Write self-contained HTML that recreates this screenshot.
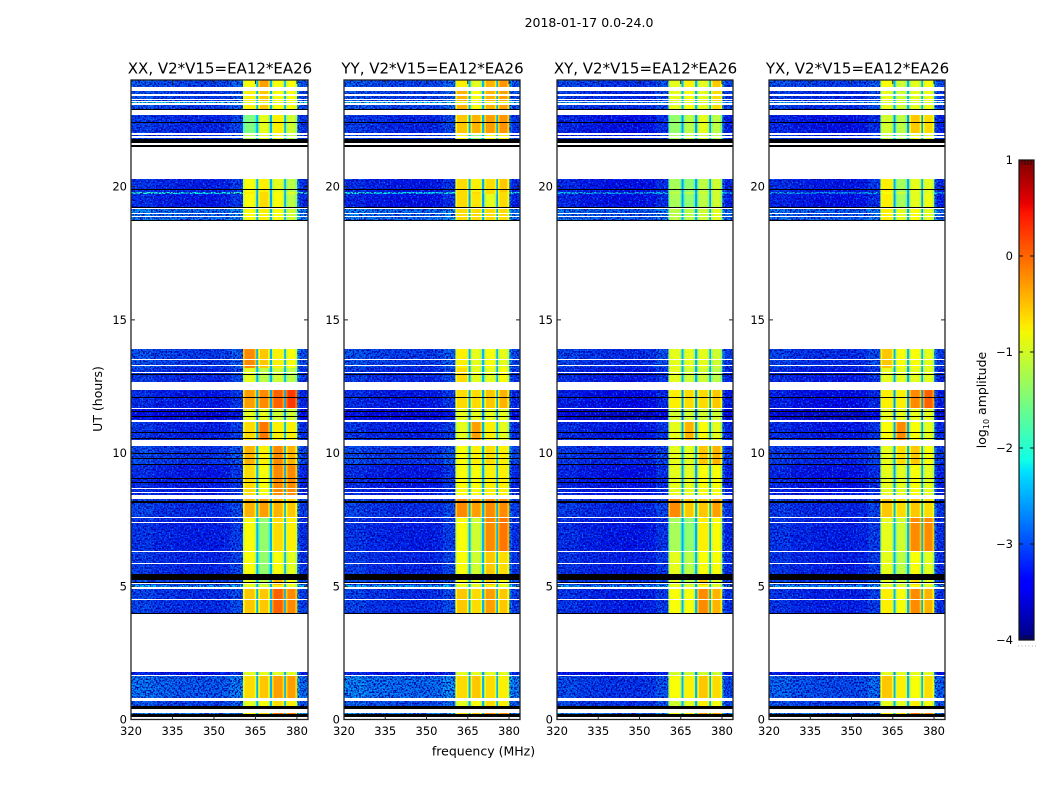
<!DOCTYPE html>
<html>
<head>
<meta charset="utf-8">
<title>2018-01-17 0.0-24.0</title>
<style>
html,body{margin:0;padding:0;background:#fff;}
svg{display:block;font-family:"DejaVu Sans","Liberation Sans",sans-serif;}
</style>
</head>
<body>
<svg id="chart" xmlns="http://www.w3.org/2000/svg" width="1050" height="800" viewBox="0 0 1050 800">
  <defs>
    <filter id="speckle" filterUnits="userSpaceOnUse" x="0" y="0" width="1050" height="800" color-interpolation-filters="sRGB">
      <feTurbulence type="fractalNoise" baseFrequency="0.62" numOctaves="1" seed="7" result="n"/>
      <feColorMatrix in="n" type="matrix" values="0 0 0 0 0  0 0 0 0 0  0 0 0 0 0.62  4.5 0 0 0 -1.9" result="d"/>
      <feColorMatrix in="n" type="matrix" values="0 0 0 0 0.03  0 0 0 0 0.5  0 0 0 0 1  0 4.5 0 0 -2.5" result="l"/>
      <feComposite in="d" in2="SourceAlpha" operator="in" result="dd"/>
      <feComposite in="l" in2="SourceAlpha" operator="in" result="ll"/>
      <feMerge><feMergeNode in="SourceGraphic"/><feMergeNode in="dd"/><feMergeNode in="ll"/></feMerge>
    </filter>
    <linearGradient id="jet-gradient" x1="0" y1="1" x2="0" y2="0">
      <stop offset="0" stop-color="#00007f"/>
      <stop offset="0.11" stop-color="#0000ff"/>
      <stop offset="0.125" stop-color="#0000ff"/>
      <stop offset="0.35" stop-color="#00e0ff"/>
      <stop offset="0.375" stop-color="#10ffe6"/>
      <stop offset="0.64" stop-color="#f4f802"/>
      <stop offset="0.66" stop-color="#ffe600"/>
      <stop offset="0.89" stop-color="#ff1300"/>
      <stop offset="0.91" stop-color="#e80000"/>
      <stop offset="1" stop-color="#7f0000"/>
    </linearGradient>
  </defs>
  <text x="589" y="27" font-size="12.5" text-anchor="middle">2018-01-17 0.0-24.0</text>
  <text x="483.5" y="755.5" font-size="12.5" text-anchor="middle">frequency (MHz)</text>
  <text x="0" y="0" font-size="12.5" text-anchor="middle" transform="translate(102,399) rotate(-90)">UT (hours)</text>
  <g id="panels"></g>
  <g id="colorbar">
    <rect x="1019" y="160" width="15" height="480" fill="url(#jet-gradient)" stroke="#111" stroke-width="1.2"/>
    <text font-size="12.5" text-anchor="middle" transform="translate(986,400) rotate(-90)">log<tspan font-size="8" dy="3">10</tspan><tspan dy="-3"> amplitude</tspan></text>
  </g>
</svg>
<script>
// Panel titles and axes
const panelTitles = ['XX, V2*V15=EA12*EA26', 'YY, V2*V15=EA12*EA26', 'XY, V2*V15=EA12*EA26', 'YX, V2*V15=EA12*EA26'];
const freqTicks = [320, 335, 350, 365, 380];
const timeTicks = [0, 5, 10, 15, 20];
const colorTicks = [1, 0, -1, -2, -3, -4];

// Frequency channels (MHz) and what each channel reads: L# low-band offset, B# sub-band, E# sub-band edge, G gap
const freqEdges = [320,328,336,344,352,356,360.5,361.1,364.7,365.3,366,366.6,369.6,370.2,371,371.6,374.8,375.4,376,376.6,379.4,380,381,384];
const channelKind = ['L0','L1','L2','L3','L4','L5','E0','B0','E0','G','E1','B1','E1','G','E2','B2','E2','G','E3','B3','E3','L7','L6'];
const lowOffsets = [0.05, -0.05, -0.1, -0.12, -0.08, 0.1, 0.0, 0.35];

// Observed spans (UT hours)
const spanStart = [24,23.6,23.17,22.68,22,20.28,19.78,19.72,19.2,13.9,13.2,12.38,11.68,11.15,10.25,9.55,8.26,7.6,6.27,5.25,5.05,4.9,1.77,1.62,0.68,0.24];
const spanEnd = [23.6,22.9,23.12,22,21.47,19.78,19.72,19.2,18.69,13.2,12.66,11.68,11.2,10.48,9.55,8.41,7.6,6.29,5.45,5,4.98,3.96,1.67,0.79,0.38,0.08];

// Log amplitude, one entry per span
const xxLow = [-2.85,-2.9,-2,-3.05,-3,-3.1,-2,-3.15,-2.6,-2.9,-3.05,-3.15,-3.35,-3.1,-2.95,-3.15,-3,-3.1,-3.05,-2.95,-2.3,-3,-3.2,-2.7,-2.85,-2.5];
const yyLow = [-2.85,-2.85,-2,-3.05,-3,-3.15,-2.1,-3.2,-2.6,-2.9,-3.05,-3.15,-3.35,-3.1,-2.95,-3.15,-3,-3.1,-3.05,-2.95,-2.3,-3,-3.2,-2.6,-2.8,-2.5];
const xyLow = [-2.95,-3,-2.4,-3.2,-3.1,-3.2,-2.4,-3.2,-2.7,-3,-3.15,-3.25,-3.5,-3.15,-3.05,-3.2,-3.05,-3.15,-3.1,-3,-2.4,-3.1,-3.3,-2.95,-2.95,-2.6];
const yxLow = [-2.9,-3,-2.4,-3.2,-3.1,-3.15,-2.5,-3.2,-2.7,-3,-3.15,-3.25,-3.5,-3.15,-3.05,-3.2,-3.05,-3.1,-3.1,-3,-2.4,-3.1,-3.3,-2.8,-2.9,-2.6];

const xxHigh = [[-.9,-.4,-.9,-.9],[-.8,-.6,-.9,-.9],[-1,-1,-1,-1],[-1.5,-1,-.8,-1.1],[-1.2,-1,-1,-1.2],[-.9,-.8,-1,-1.2],[-.8,-.7,-.9,-1],[-.9,-.7,-.9,-1.2],[-.9,-.8,-.9,-1.1],[-.3,-.6,-.8,-.9],[-1,-1.2,-1.1,-1.2],[-.4,-.3,-.1,.1],[-1,-1,-1.1,-1.1],[-.7,-.2,-.8,-.8],[-.5,-.8,-.3,-.5],[-.7,-.9,-.3,-.3],[-.5,-.4,-.5,-.6],[-.9,-1.4,-.7,-.8],[-.9,-1.4,-.9,-1],[-1,-1.2,-.5,-.9],[-1,-1,-.8,-1],[-.6,-.6,-.1,-.3],[-1,-1,-1,-1],[-.7,-.6,-.4,-.4],[-1,-.9,-.7,-.8],[-.8,-.7,-.2,-.2]];
const yyHigh = [[-.8,-1,-.5,-.35],[-.5,-.9,-.5,-.4],[-1,-1,-1,-1],[-.6,-.5,-.4,-.35],[-.9,-1.4,-.9,-.8],[-.7,-.8,-.7,-.6],[-.7,-.7,-.7,-.7],[-.7,-.75,-1,-.7],[-.7,-.7,-.7,-.7],[-.8,-1,-.9,-1],[-.7,-1,-1,-.9],[-.7,-.7,-.6,-.5],[-1,-1,-1,-1],[-1,-.4,-.8,-1],[-.9,-.8,-.7,-.8],[-.9,-.9,-.8,-.8],[-.3,-.4,-.3,-.3],[-.9,-1.1,-.3,-.2],[-.9,-1.1,-.6,-.7],[-.9,-1,-.6,-.9],[-1,-1,-.8,-1],[-.6,-.7,-.4,-.6],[-1,-1,-1,-1],[-.7,-.6,-.7,-.8],[-1,-.9,-.7,-.8],[-.7,-.6,-.3,-.3]];
const xyHigh = [[-1,-.8,-1,-.6],[-1,-.9,-1,-.7],[-1.1,-1.1,-1.1,-1.1],[-1.4,-1.2,-1,-1.2],[-1.3,-1.2,-1.1,-1.2],[-1.3,-1.4,-1.2,-1.1],[-1.2,-1.2,-1.1,-1.1],[-1.3,-1.4,-1.2,-1.1],[-1.2,-1.2,-1.1,-1],[-1,-1,-1,-1.1],[-1,-1.1,-1.1,-1.2],[-.8,-.7,-.7,-.6],[-1.1,-1.1,-1.1,-1.1],[-1,-.5,-.9,-1],[-1,-1,-.6,-.5],[-1,-1,-.9,-.9],[-.3,-.6,-.6,-.4],[-1.3,-1.4,-.8,-.9],[-1,-1.2,-.9,-.9],[-1,-1.2,-.6,-1],[-1,-1,-.9,-1],[-.9,-.9,-.3,-.5],[-1.1,-1.1,-1.1,-1.1],[-.9,-.8,-.6,-.7],[-1.1,-1,-.8,-.9],[-.9,-.8,-.4,-.4]];
const yxHigh = [[-.9,-1.1,-1,-.9],[-1,-1.1,-1,-.95],[-1.1,-1.1,-1.1,-1.1],[-1.1,-1.2,-.6,-.7],[-1.2,-1.3,-1,-1],[-.8,-1.3,-1,-1],[-.9,-1.1,-1,-1],[-.8,-1.3,-1,-.95],[-.8,-1,-.9,-1],[-.6,-.9,-.9,-1],[-1,-1,-1,-1],[-.8,-.8,-.3,-.1],[-1,-1,-1,-1],[-.9,-.3,-.9,-1],[-1,-.7,-.6,-.9],[-1,-1,-.9,-1],[-.6,-.7,-.6,-.7],[-1,-1.1,-.3,-.3],[-1,-1.2,-.9,-1],[-1,-1.1,-.7,-1],[-1,-1,-.9,-1],[-.8,-.9,-.3,-.5],[-1,-1,-1,-1],[-.6,-.8,-.9,-.7],[-1,-1,-.8,-.9],[-.8,-.7,-.2,-.3]];
const lowSeries = [xxLow, yyLow, xyLow, yxLow];
const highSeries = [xxHigh, yyHigh, xyHigh, yxHigh];

// Gaps in the record (UT hours): no data, white
const gapStart = [23.74,23.46,23.27,23.21,23.12,22.87,22.01,21.89,21.63,21.47,19.2,19.02,18.89,18.69,13.52,13.3,13.03,12.66,11.68,11.23,10.48,10.37,8.68,8.54,8.41,7.61,7.4,6.31,5.86,5.11,4.98,4.54,3.96,1.67,0.79,0.38,0.08];
const gapEnd = [23.59,23.41,23.25,23.17,23.06,22.68,21.95,21.82,21.56,20.28,19.16,18.97,18.84,13.9,13.48,13.26,12.99,12.38,11.64,11.15,10.4,10.25,8.64,8.51,8.26,7.57,7.36,6.27,5.82,5.07,4.9,4.51,1.77,1.62,0.68,0.24,0];

// Flagged intervals (UT hours): black
const flagStart = [22.93,22.42,21.8,21.56,19.91,19.23,18.73,12.96,12.11,11.59,11.38,10.78,10.55,9.99,9.8,9.6,9.07,8.92,8.19,5.45,5.15,3.98,0.49,0.19];
const flagEnd = [22.87,22.39,21.63,21.47,19.87,19.2,18.69,12.92,12.07,11.55,11.34,10.74,10.52,9.95,9.76,9.54,9.03,8.86,8.13,5.25,5.11,3.96,0.38,0.08];

// Layout
const NS = 'http://www.w3.org/2000/svg';
const panelLeft = [131, 344, 557, 769];
const panelRight = [308, 520, 733, 945];
const plotTop = 80, plotBottom = 719.5;
const colorTop = 160, colorBottom = 640, colorLeft = 1019, colorRight = 1034;
const fMin = 320, fMax = 384, tMin = 0, tMax = 24, cMin = -4, cMax = 1;

function xScale(p, f) { return panelLeft[p] + (f - fMin) / (fMax - fMin) * (panelRight[p] - panelLeft[p]); }
function yScale(t) { return plotBottom - (t - tMin) / (tMax - tMin) * (plotBottom - plotTop); }
function cScale(v) { return colorBottom - (v - cMin) / (cMax - cMin) * (colorBottom - colorTop); }

function jet(v) {
  const t = Math.max(0, Math.min(1, (v - cMin) / (cMax - cMin)));
  const ramp = (c) => Math.round(255 * Math.max(0, Math.min(1, 1.5 - Math.abs(4 * t - c))));
  return 'rgb(' + ramp(3) + ',' + ramp(2) + ',' + ramp(1) + ')';
}
function make(tag, attrs, parent) {
  const el = document.createElementNS(NS, tag);
  for (const k in attrs) el.setAttribute(k, attrs[k]);
  parent.appendChild(el);
  return el;
}
function band(t0, t1) {
  const y0 = Math.round(yScale(t0));
  const h = Math.max(1, Math.round(yScale(t1)) - y0);
  return { y: y0, height: h };
}
function cellValue(p, s, kind) {
  const code = kind[0];
  const idx = Number(kind.slice(1));
  if (code === 'L') return lowSeries[p][s] + lowOffsets[idx];
  if (code === 'B') return highSeries[p][s][idx];
  if (code === 'E') return highSeries[p][s][idx] - 0.3;
  return Math.min(-2.5, lowSeries[p][s] + 0.6);
}

const root = document.getElementById('panels');
panelTitles.forEach(function (title, p) {
  const g = make('g', {}, root);
  
  

  const lowG = make('g', { filter: 'url(#speckle)' }, g);
  
  
  const highG = make('g', {}, g);
  
  

  spanStart.forEach(function (t0, s) {
    channelKind.forEach(function (kind, c) {
      const x0 = xScale(p, freqEdges[c]), x1 = xScale(p, freqEdges[c + 1]);
      const b = band(t0, spanEnd[s]);
      const target = kind[0] === 'L' ? lowG : highG;
      const cell = make('rect', { x: x0, y: b.y, width: x1 - x0 + 0.3, height: b.height, fill: jet(cellValue(p, s, kind)) }, target);
      
      
    });
  });

  gapStart.forEach(function (t0, i) {
    const b = band(t0, gapEnd[i]);
    const r = make('rect', { x: panelLeft[p], y: b.y, width: panelRight[p] - panelLeft[p], height: b.height, fill: '#fff', 'shape-rendering': 'crispEdges' }, g);
    
    
  });
  flagStart.forEach(function (t0, i) {
    const b = band(t0, flagEnd[i]);
    const r = make('rect', { x: panelLeft[p], y: b.y, width: panelRight[p] - panelLeft[p], height: b.height, fill: '#000', 'shape-rendering': 'crispEdges' }, g);
    
    
  });

  const frame = make('rect', { x: panelLeft[p], y: plotTop, width: panelRight[p] - panelLeft[p], height: plotBottom - plotTop, fill: 'none', stroke: '#222', 'stroke-width': 1.3 }, g);
  
  

  const titleEl = make('text', { x: (panelLeft[p] + panelRight[p]) / 2 + 0.5, y: 73.5, 'font-size': 15, 'text-anchor': 'middle' }, g);
  titleEl.textContent = title;
  
  

  freqTicks.forEach(function (f) {
    const x = xScale(p, f);
    const tk = make('path', { d: 'M' + x + ' ' + plotBottom + 'v-4M' + x + ' ' + plotTop + 'v4', stroke: '#222', 'stroke-width': 1, fill: 'none' }, g);
    
    
    const lb = make('text', { x: x, y: 735, 'font-size': 11.5, 'text-anchor': 'middle' }, g);
    lb.textContent = f;
    
    
  });
  timeTicks.forEach(function (t) {
    const y = yScale(t);
    const tk = make('path', { d: 'M' + panelLeft[p] + ' ' + y + 'h4M' + panelRight[p] + ' ' + y + 'h-4', stroke: '#222', 'stroke-width': 1, fill: 'none' }, g);
    
    
    const lb = make('text', { x: panelLeft[p] - 4, y: y + 4, 'font-size': 11.5, 'text-anchor': 'end' }, g);
    lb.textContent = t;
    
    
  });
});

const cb = document.getElementById('colorbar');
colorTicks.forEach(function (v) {
  const y = cScale(v);
  const tk = make('path', { d: 'M' + colorLeft + ' ' + y + 'h4M' + colorRight + ' ' + y + 'h-4', stroke: '#111', 'stroke-width': 1, fill: 'none' }, cb);
  
  
  const lb = make('text', { x: colorLeft - 6, y: y + 4, 'font-size': 11.5, 'text-anchor': 'end' }, cb);
  lb.textContent = String(v).replace('-', '\u2212');
  
  
});
[1022, 1025, 1028, 1031].forEach(function (x) {
  const a = make('path', { d: 'M' + x + ' ' + colorTop + 'v5M' + x + ' ' + colorBottom + 'v-5', stroke: '#111', 'stroke-width': 0.8, fill: 'none' }, cb);
  
  
});
[1018, 1021.5, 1025, 1028.5, 1032, 1035].forEach(function (x) {
  const d = make('rect', { x: x, y: 645.5, width: 1, height: 1, fill: '#aaa' }, cb);
  
  
});
</script>
</body>
</html>
